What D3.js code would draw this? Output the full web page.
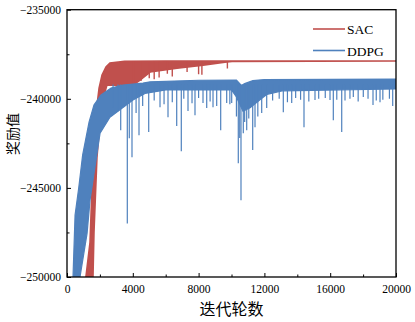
<!DOCTYPE html>
<html>
<head>
<meta charset="utf-8">
<script src="https://cdn.jsdelivr.net/npm/d3@7"></script>
<style>
  body { margin: 0; background: #fff; }
  .tick text { font-family: "Liberation Serif", serif; font-size: 11.5px; fill: #000; }
  .domain { display: none; }
</style>
</head>
<body>
<script>
// ---- data ----
const xTicks = [0, 4000, 8000, 12000, 16000, 20000];
const yTicks = [-250000, -245000, -240000, -235000];
const seriesNames = ['SAC', 'DDPG'];

// SAC band (upper / lower envelope of the noisy curve)
const sacHiX = [1150, 1400, 1520, 1700, 1950, 2130, 2370, 2610, 3500, 6000, 10000, 20000];
const sacHiV = [-250000, -248050, -245000, -241300, -239400, -238670, -238220, -237990, -237900, -237880, -237880, -237880];
const sacLoX = [1580, 1640, 1820, 2010, 2250, 2430, 4010, 4440, 5050, 6690, 8270, 9600, 10030, 20000];
const sacLoV = [-250000, -247500, -243300, -241200, -239800, -239230, -239230, -238950, -238500, -238280, -238110, -237940, -237900, -237880];
const sacDipX = [4050, 4150, 4500, 5000, 5300, 5600, 6100, 6400, 7300, 8000, 8200, 9750];
const sacDipV = [-239350, -239300, -239000, -238850, -238900, -238800, -238600, -238750, -238500, -238620, -238650, -238300];

// DDPG band
const ddpgHiX = [365, 490, 710, 950, 1340, 1640, 2070, 2680, 3400, 4620, 5050, 8000, 10300, 10600, 10800, 11300, 12000, 20000];
const ddpgHiV = [-250000, -246530, -245020, -243160, -241310, -240350, -239790, -239400, -239230, -239120, -239050, -238960, -238950, -239250, -239150, -238980, -238920, -238900];
const ddpgLoX = [790, 1220, 1400, 1700, 2010, 2610, 4010, 4740, 6000, 10000, 10300, 10700, 11130, 11730, 12160, 13130, 20000];
const ddpgLoV = [-250000, -247550, -245690, -243840, -241930, -241030, -240070, -239700, -239500, -239500, -239900, -240700, -240500, -240050, -239750, -239550, -239450];
const ddpgSpikeX = [2800, 3100, 3265, 3666, 3787, 3951, 4200, 4377, 4600, 4967, 5300, 5654, 5900, 6140, 6400, 6669, 6948, 7100, 7356, 7600, 7781, 8000, 8268, 8493, 8700, 8876, 9100, 9343, 9708, 9900, 10012, 10300, 10413, 10500, 10577, 10717, 10800, 10924, 11050, 11289, 11429, 11600, 11836, 12140, 12500, 12900, 13149, 13400, 13660, 13900, 14200, 14407, 14700, 15076, 15300, 15700, 15988, 16189, 16400, 16700, 16900, 17200, 17405, 17700, 18012, 18300, 18602, 18800, 19028, 19200, 19600, 19800];
const ddpgSpikeV = [-240500, -240700, -241760, -247000, -242210, -243280, -240800, -242040, -240400, -241870, -240100, -240470, -240300, -241030, -240200, -241530, -242940, -240000, -240690, -240250, -240920, -239950, -240240, -240520, -240150, -240470, -240400, -241760, -240240, -240300, -240240, -241000, -243610, -242200, -245690, -241930, -241300, -241760, -241100, -242880, -241590, -241000, -240800, -240520, -240100, -240000, -240750, -240200, -240240, -239950, -240050, -241590, -240150, -240070, -240000, -239950, -240070, -241200, -240050, -241870, -240100, -240000, -239900, -240150, -239900, -240000, -240350, -240100, -240190, -240050, -240000, -240410];

const colors = ['#C0504D', '#4F81BD'];

// ---- layout ----
const W = 415, H = 322;
const mLeft = 67, mRight = 396, mTop = 9.7, mBottom = 277;

const svg = d3.select('body').append('svg')
  .attr('width', W).attr('height', H);

const x = d3.scaleLinear().domain([0, 20000]).range([mLeft, mRight]);
const y = d3.scaleLinear().domain([-250000, -235000]).range([mBottom, mTop]);

svg.append('defs').append('clipPath').attr('id', 'clip')
  .append('rect').attr('x', mLeft).attr('y', mTop)
  .attr('width', mRight - mLeft).attr('height', mBottom - mTop);

const plot = svg.append('g').attr('clip-path', 'url(#clip)');

const line = d3.line().x(d => x(d[0])).y(d => y(d[1]));

function band(hx, hv, lx, lv) {
  const up = hx.map((v, i) => [v, hv[i]]);
  const lo = lx.map((v, i) => [v, lv[i]]).reverse();
  return up.concat(lo);
}

// SAC drawn first, DDPG on top
plot.append('path')
  .datum(band(sacHiX, sacHiV, sacLoX, sacLoV))
  .attr('d', d => line(d) + 'Z')
  .attr('fill', colors[0]).attr('stroke', colors[0]).attr('stroke-width', 1.6);

plot.append('g').selectAll('line')
  .data(sacDipX.map((v, i) => [v, sacDipV[i]]))
  .join('line')
  .attr('x1', d => x(d[0])).attr('x2', d => x(d[0]))
  .attr('y1', y(-237900)).attr('y2', d => y(d[1]))
  .attr('stroke', colors[0]).attr('stroke-width', 1.4);

plot.append('path')
  .datum(band(ddpgHiX, ddpgHiV, ddpgLoX, ddpgLoV))
  .attr('d', d => line(d) + 'Z')
  .attr('fill', colors[1]).attr('stroke', colors[1]).attr('stroke-width', 1.2);

plot.append('g').selectAll('line')
  .data(ddpgSpikeX.map((v, i) => [v, ddpgSpikeV[i]]))
  .join('line')
  .attr('x1', d => x(d[0])).attr('x2', d => x(d[0]))
  .attr('y1', y(-239200)).attr('y2', d => y(d[1]))
  .attr('stroke', colors[1]).attr('stroke-width', 1.2);

// ---- axes (ticks inward) ----
svg.append('g')
  .attr('transform', `translate(0,${mBottom})`)
  .call(d3.axisBottom(x).tickValues(xTicks).tickSize(-4).tickPadding(8).tickFormat(d3.format('d')));

svg.append('g')
  .attr('transform', `translate(0,${mBottom})`)
  .call(d3.axisBottom(x).tickValues(d3.range(2000, 20000, 4000)).tickSize(-2.5).tickFormat(''));

svg.append('g')
  .attr('transform', `translate(${mLeft},0)`)
  .call(d3.axisLeft(y).tickValues(yTicks).tickSize(-4).tickPadding(6).tickFormat(d3.format('d')));

svg.append('g')
  .attr('transform', `translate(${mLeft},0)`)
  .call(d3.axisLeft(y).tickValues(d3.range(-247500, -235000, 5000)).tickSize(-2.5).tickFormat(''));

// frame
svg.append('rect')
  .attr('x', mLeft).attr('y', mTop)
  .attr('width', mRight - mLeft).attr('height', mBottom - mTop)
  .attr('fill', 'none').attr('stroke', '#000').attr('stroke-width', 1.3);

// ---- labels ----
svg.append('text')
  .attr('x', (mLeft + mRight) / 2).attr('y', 315)
  .attr('text-anchor', 'middle')
  .style('font-family', '"Noto Sans CJK SC"').style('font-size', '16px')
  .text('迭代轮数');

svg.append('text')
  .attr('transform', `translate(18,134) rotate(-90)`)
  .attr('text-anchor', 'middle')
  .style('font-family', '"Noto Sans CJK SC"').style('font-size', '14px')
  .text('奖励值');

// ---- legend ----
const legend = svg.append('g');
seriesNames.forEach((name, i) => {
  const ly = 29 + i * 21.5;
  legend.append('line')
    .attr('x1', 313).attr('x2', 345).attr('y1', ly).attr('y2', ly)
    .attr('stroke', colors[i]).attr('stroke-width', 1.6);
  legend.append('text')
    .attr('x', 347).attr('y', ly + 5)
    .style('font-family', '"Liberation Serif", serif').style('font-size', '13.5px')
    .text(name);
});
</script>
</body>
</html>
